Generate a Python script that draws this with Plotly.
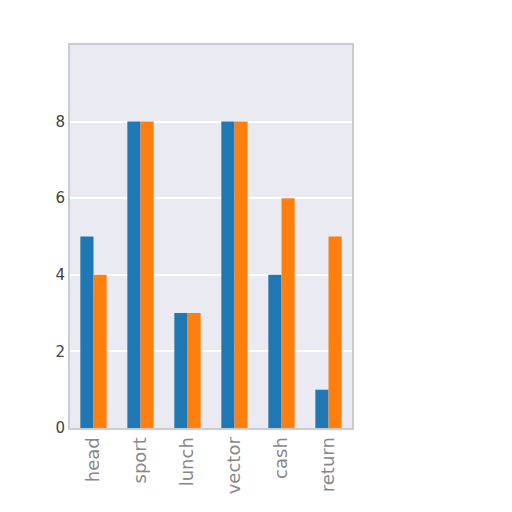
import plotly.graph_objects as go

# categories and the two series
categories = ["head", "sport", "lunch", "vector", "cash", "return"]
series_a = [5, 8, 3, 8, 4, 1]
series_b = [4, 8, 3, 8, 6, 5]
y_ticks = [0, 2, 4, 6, 8]

fig = go.Figure()
fig.add_trace(go.Bar(x=categories, y=series_a, name="a", marker_color="#1f77b4",
                     marker_line_width=0))
fig.add_trace(go.Bar(x=categories, y=series_b, name="b", marker_color="#ff7f0e",
                     marker_line_width=0))

fig.update_layout(
    barmode="group",
    bargap=0.44,
    bargroupgap=0,
    showlegend=False,
    plot_bgcolor="#EAEAF2",
    paper_bgcolor="white",
    width=512, height=512,
    margin=dict(l=62, r=168, t=37, b=92),
    font=dict(family="DejaVu Sans", color="#555555", size=14),
)
fig.update_xaxes(range=[-0.5, 5.5], tickangle=-90, showgrid=False,
                 showline=True, linecolor="#CCCCCC", linewidth=2, mirror=True,
                 ticks="", tickfont=dict(color="#888888", size=18))
fig.update_yaxes(range=[0, 10], tickvals=y_ticks, gridcolor="white", gridwidth=1.5,
                 showline=True, linecolor="#CCCCCC", linewidth=2, mirror=True,
                 zeroline=False, ticks="", tickfont=dict(color="#444444", size=15))

fig.write_html("out.html")
